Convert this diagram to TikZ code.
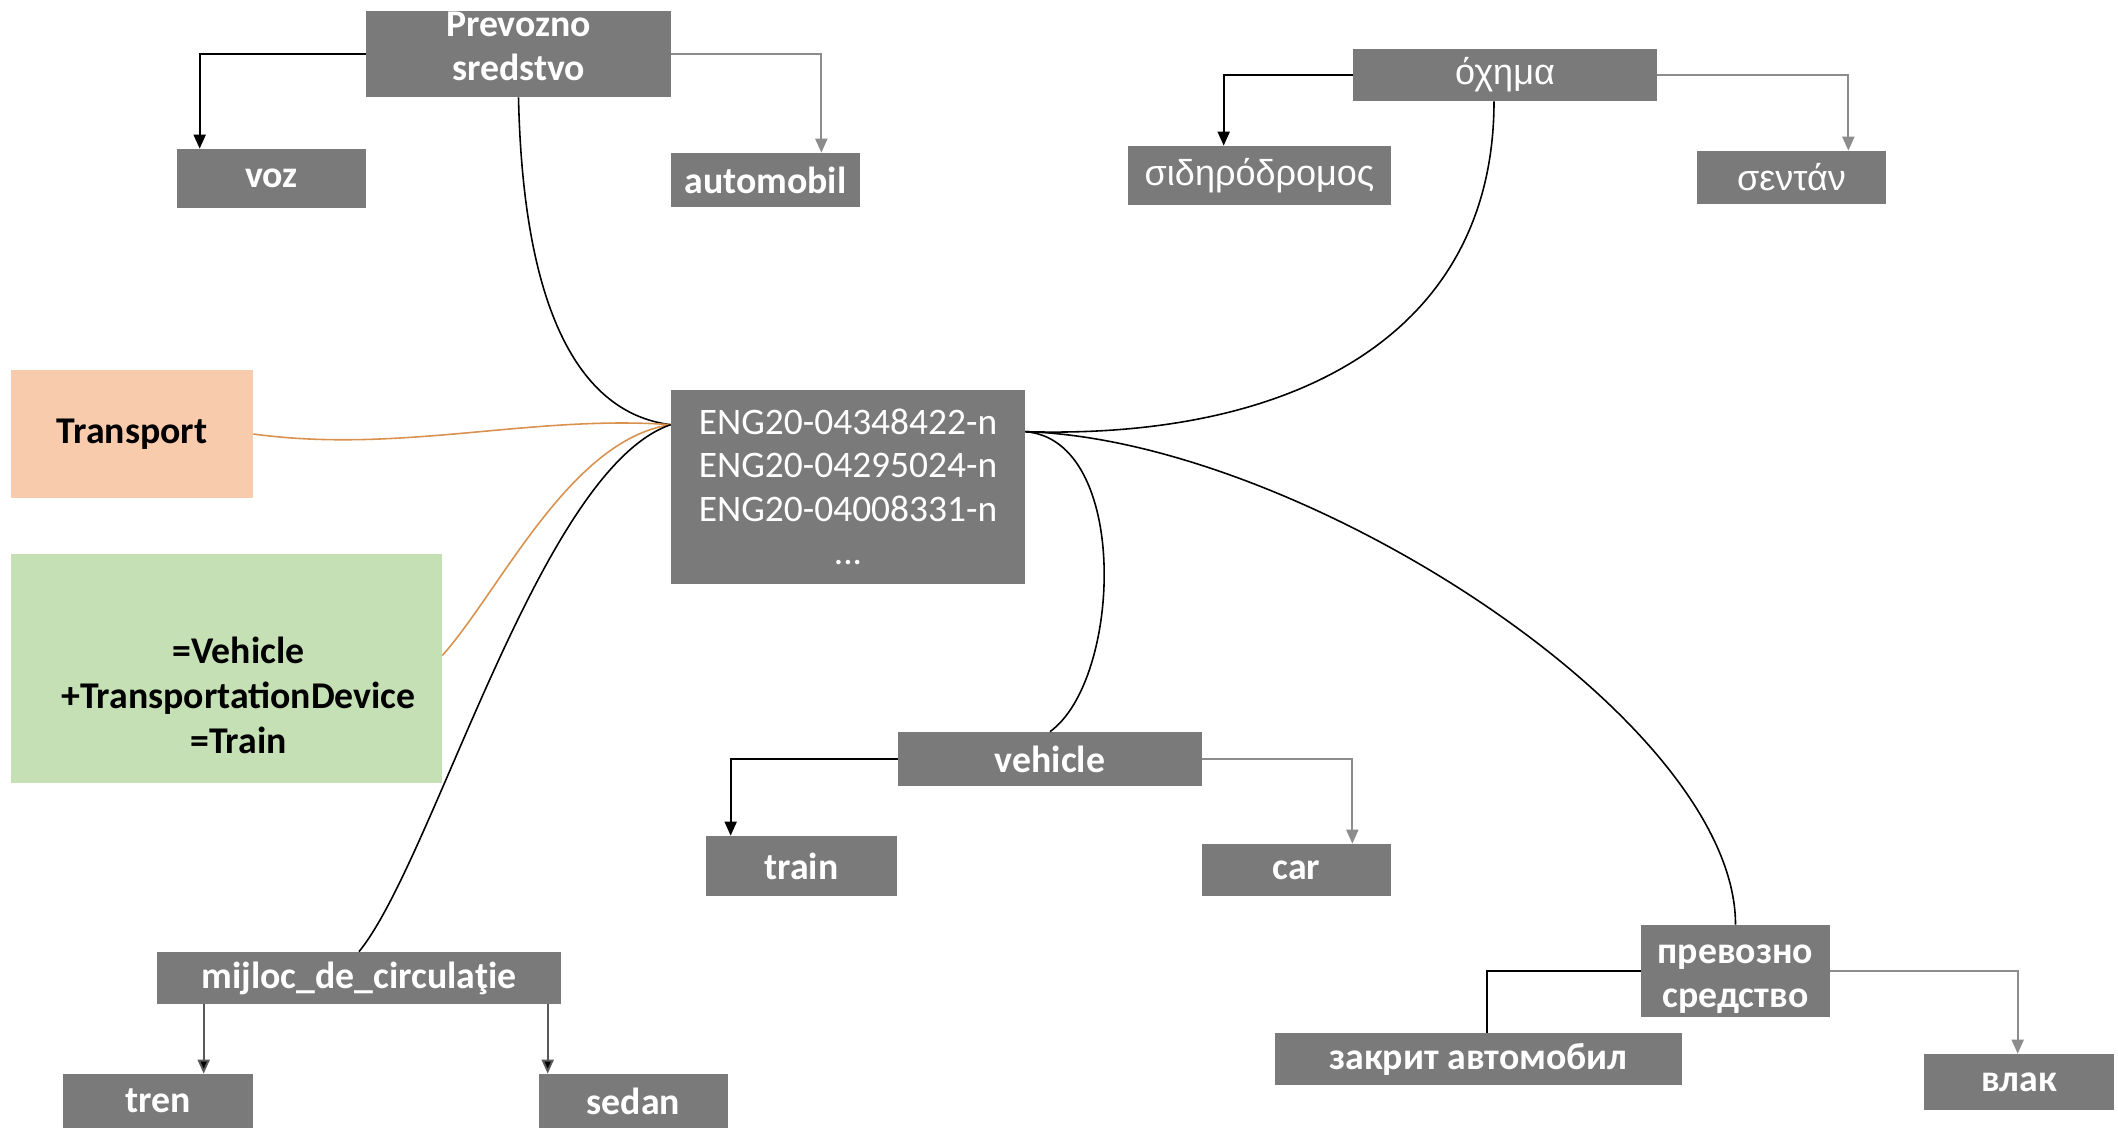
\documentclass[tikz,border=0pt]{standalone}
\usepackage{fontspec}
\setmainfont{Carlito}
\newfontfamily\greekfont{Liberation Sans}
\usetikzlibrary{arrows.meta,calc}
\definecolor{boxgray}{HTML}{7A7A7A}
\definecolor{linkgray}{HTML}{8C8C8C}
\definecolor{peach}{HTML}{F8CBAD}
\definecolor{sage}{HTML}{C5E0B4}
\definecolor{wire}{HTML}{D9914E}
\begin{document}
\begin{tikzpicture}[x=0.02cm,y=-0.02cm,
  term/.style={fill=boxgray,text=white,font=\bfseries\fontsize{21.5}{25}\selectfont,
    inner sep=0pt,align=center},
  gterm/.style={term,font=\greekfont\fontsize{20.5}{25}\selectfont},
  tag/.style={inner sep=0pt,align=center,text=black,font=\bfseries\fontsize{21.5}{25.5}\selectfont},
  tip/.style={-{Triangle[length=0.28cm,width=0.24cm]}},
  hyper/.style={line width=1.1pt,black},
  hypo/.style={line width=1.1pt,linkgray},
  link/.style={line width=0.9pt,black},
  wlink/.style={line width=0.9pt,wire}]
\useasboundingbox (0,0) rectangle (2118,1135);

% synset node
\node[term,font=\fontsize{21.3}{24.8}\selectfont,minimum width=7.08cm,minimum height=3.88cm]
  (eng) at (848,487) {ENG20-04348422-n\\ENG20-04295024-n\\ENG20-04008331-n\\...};

% ontology labels
\node[tag,fill=peach,minimum width=4.84cm,minimum height=2.56cm] (transport) at (132,434) {Transport};
\node[tag,fill=sage,minimum width=8.62cm,minimum height=4.58cm] (onto) at (226.5,668.5)
  {\hspace*{0.48cm}\begin{tabular}{@{}c@{}}\rule{0pt}{53pt}=Vehicle\\+TransportationDevice\\=Train\end{tabular}};

% Serbian
\node[term,minimum width=6.1cm,minimum height=1.72cm] (pre) at (518.5,54) {Prevozno\\sredstvo\rule[-9pt]{0pt}{0pt}};
\node[term,minimum width=3.78cm,minimum height=1.18cm] (voz) at (271.5,178.5) {voz};
\node[term,minimum width=3.78cm,minimum height=1.08cm] (auto) at (765.5,180) {automobil};

% Greek
\node[gterm,minimum width=6.08cm,minimum height=1.04cm] (ochima) at (1505,75) {όχημα};
\node[gterm,minimum width=5.26cm,minimum height=1.18cm] (sid) at (1259.5,175.5) {σιδηρόδρομος};
\node[gterm,minimum width=3.78cm,minimum height=1.06cm] (sentan) at (1791.5,177.5) {σεντάν};

% English
\node[term,minimum width=6.08cm,minimum height=1.08cm] (vehicle) at (1050,759) {vehicle};
\node[term,minimum width=3.82cm,minimum height=1.2cm] (train) at (801.5,866) {train};
\node[term,minimum width=3.78cm,minimum height=1.04cm] (car) at (1296.5,870) {car};

% Romanian
\node[term,minimum width=8.08cm,minimum height=1.04cm] (mijloc) at (359,978) {mijloc\_de\_circulaţie};
\node[term,minimum width=3.8cm,minimum height=1.08cm] (tren) at (158,1101) {tren};
\node[term,minimum width=3.78cm,minimum height=1.08cm] (sedan) at (633.5,1101) {sedan};

% Bulgarian
\node[term,minimum width=3.78cm,minimum height=1.84cm] (prevoz) at (1735.5,971) {\rule{0pt}{20pt}превозно\\средство};
\node[term,minimum width=8.14cm,minimum height=1.04cm] (zakrit) at (1478.5,1059) {закрит автомобил};
\node[term,minimum width=3.8cm,minimum height=1.12cm] (vlak) at (2019,1082) {влак};

% attachment points on the synset box
\coordinate (engL) at ($(eng.north west)+(0,35)$);
\coordinate (engR) at ($(eng.north east)+(0,42)$);
\coordinate (ochimaB) at ($(ochima.south)+(-11,0)$);
\coordinate (ontoR) at ($(onto.east)+(0,-13)$);

% hyponym trees
\draw[hyper,tip] (pre.west) -| ($(voz.north west)+(23,0)$);
\draw[hypo,tip] (pre.east) -| ($(auto.north east)+(-39,0)$);
\draw[hyper,tip] (ochima.west) -| ($(sid.north west)+(96,0)$);
\draw[hypo,tip] (ochima.east) -| ($(sentan.north east)+(-38,0)$);
\draw[hyper,tip] (vehicle.west) -| ($(train.north west)+(25,0)$);
\draw[hypo,tip] (vehicle.east) -| ($(car.north east)+(-39,0)$);
\coordinate (mA) at ($(mijloc.south west)+(47,0)$);
\coordinate (mB) at ($(mijloc.south west)+(391,0)$);
\draw[line width=1.1pt,black!65,-{Triangle[length=0.28cm,width=0.24cm,fill=black]}] (mA) -- (mA |- tren.north);
\draw[line width=1.1pt,black!65,-{Triangle[length=0.28cm,width=0.24cm,fill=black]}] (mB) -- (mB |- sedan.north);
\draw[hyper] (prevoz.west) -| ($(zakrit.north west)+(212,0)$);
\draw[hypo,tip] (prevoz.east) -| ($(vlak.north west)+(94,0)$);

% links to the synset
\draw[link] (pre.south) .. controls +(5,233) and +(-81,-10) .. (engL);
\draw[wlink] (transport.east) .. controls +(147,20) and +(-141,-10) .. (engL);
\draw[wlink] (ontoR) .. controls +(58,-65) and +(-101,15) .. (engL);
\draw[link] (mijloc.north) .. controls +(75,-92) and +(-131,45) .. (engL);
\draw[link] (engR) .. controls +(275,8) and +(0,229) .. (ochimaB);
\draw[link] (engR) .. controls +(105,8) and +(72,-52) .. (vehicle.north);
\draw[link] (engR) .. controls +(275,8) and +(0,-205) .. (prevoz.north);
\end{tikzpicture}
\end{document}
